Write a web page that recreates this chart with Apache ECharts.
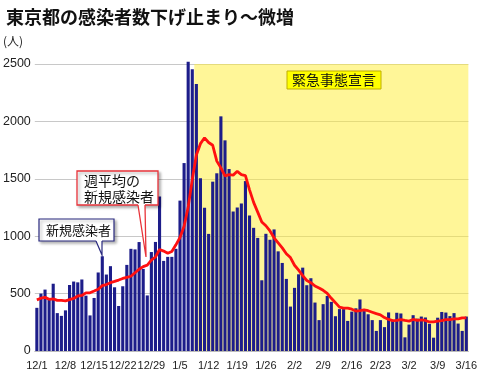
<!DOCTYPE html>
<html>
<head>
<meta charset="utf-8">
<script src="https://cdn.jsdelivr.net/npm/echarts@6/dist/echarts.min.js"></script>
<style>
html, body { margin: 0; padding: 0; background: #fff; }
#chart { width: 480px; height: 377px; }
</style>
</head>
<body>
<div id="chart"></div>
<script>
// 日付（12/1〜3/16）
var dates = [
  '12/1','12/2','12/3','12/4','12/5','12/6','12/7','12/8','12/9','12/10','12/11','12/12','12/13','12/14','12/15','12/16',
  '12/17','12/18','12/19','12/20','12/21','12/22','12/23','12/24','12/25','12/26','12/27','12/28','12/29','12/30','12/31',
  '1/1','1/2','1/3','1/4','1/5','1/6','1/7','1/8','1/9','1/10','1/11','1/12','1/13','1/14','1/15','1/16',
  '1/17','1/18','1/19','1/20','1/21','1/22','1/23','1/24','1/25','1/26','1/27','1/28','1/29','1/30','1/31',
  '2/1','2/2','2/3','2/4','2/5','2/6','2/7','2/8','2/9','2/10','2/11','2/12','2/13','2/14',
  '2/15','2/16','2/17','2/18','2/19','2/20','2/21','2/22','2/23','2/24','2/25','2/26','2/27','2/28',
  '3/1','3/2','3/3','3/4','3/5','3/6','3/7','3/8','3/9','3/10','3/11','3/12','3/13','3/14','3/15','3/16'
];
// 新規感染者（日別）
var cases = [
  376,500,535,451,586,330,306,354,575,605,598,623,482,310,462,684,825,666,739,555,392,564,750,890,885,949,715,484,862,950,1345,
  785,820,820,890,1310,1637,2520,2455,2325,1505,1247,1020,1475,1548,2044,1835,1585,1215,1250,1285,1480,1180,1073,985,616,1021,969,1059,868,767,628,
  387,550,668,726,573,634,422,269,408,480,428,303,365,365,262,343,372,449,348,320,269,175,269,208,336,269,333,327,
  119,230,312,282,300,292,237,116,290,340,335,304,330,239,175,300
];
// 週平均の新規感染者
var weekAvg = [
  445,460,467,450,454,441,441,437,448,458,479,484,506,507,522,538,569,579,595,606,618,632,642,651,682,712,735,748,791,819,884,
  870,852,867,925,989,1087,1255,1493,1708,1806,1857,1816,1792,1654,1595,1525,1536,1532,1565,1537,1528,1404,1295,1210,1124,1091,1046,986,942,898,847,
  814,747,704,656,614,595,566,549,529,502,459,421,382,374,373,364,348,351,358,351,338,325,315,291,275,264,266,274,
  266,260,275,267,272,266,253,253,261,265,273,273,279,279,288,289
];
var yTicks = [0, 500, 1000, 1500, 2000, 2500];
var emergencyStart = '1/9';

var jp = "'Noto Sans CJK JP', sans-serif";
var chart = echarts.init(document.getElementById('chart'));
var startIdx = dates.indexOf(emergencyStart) - 0.5;

var option = {
  animation: false,
  title: {
    text: '東京都の感染者数下げ止まり～微増',
    left: 1,
    top: 3,
    textStyle: { fontFamily: jp, fontSize: 18, fontWeight: 'bold', color: '#111' }
  },
  grid: { left: 34, right: 11, top: 64, bottom: 26 },
  xAxis: [{
    type: 'category',
    data: dates,
    axisLine: { show: true, lineStyle: { color: '#bbb' } },
    axisTick: { show: false },
    axisLabel: {
      interval: 6,
      margin: 9,
      color: '#222',
      fontSize: 11,
      fontFamily: 'Liberation Sans'
    }
  }, {
    type: 'value',
    min: -0.5,
    max: dates.length - 0.5,
    show: false
  }],
  yAxis: {
    type: 'value',
    min: yTicks[0],
    max: yTicks[yTicks.length - 1],
    interval: 500,
    axisLine: { show: false },
    axisTick: { show: false },
    axisLabel: {
      margin: 4, color: '#222', fontSize: 12.5, fontFamily: 'Liberation Sans',
      formatter: function (v) { return String(v); }
    },
    splitLine: { lineStyle: { color: '#c8c8c8', width: 1 } }
  },
  series: [{
    type: 'line',
    xAxisIndex: 1,
    data: [[startIdx, 0]],
    symbol: 'none',
    lineStyle: { opacity: 0 },
    silent: true,
    markArea: {
      silent: true,
      itemStyle: { color: 'rgba(255, 238, 50, 0.5)' },
      data: [[{ xAxis: startIdx, yAxis: 0 }, { xAxis: dates.length - 0.5, yAxis: yTicks[yTicks.length - 1] }]]
    }
  }, {
    name: '新規感染者',
    type: 'bar',
    data: cases,
    clip: false,
    barCategoryGap: '24%',
    itemStyle: { color: '#1d1d8a' }
  }, {
    name: '週平均の新規感染者',
    type: 'line',
    data: weekAvg,
    symbol: 'none',
    smooth: false,
    lineStyle: { color: '#ff1010', width: 2.8 },
    z: 5
  }],
  graphic: [
    {
      type: 'text',
      left: 3, top: 35,
      style: { text: '(人)', fontFamily: jp, fontSize: 12, fill: '#222' }
    },
    // 緊急事態宣言
    {
      type: 'rect',
      shape: { x: 287, y: 71, width: 94, height: 18 },
      style: { fill: '#ffff00', stroke: '#bfae00', lineWidth: 1 },
      z: 10
    },
    {
      type: 'text',
      style: { text: '緊急事態宣言', x: 334, y: 80, align: 'center', verticalAlign: 'middle',
               fontFamily: jp, fontSize: 14, fill: '#111' },
      z: 11
    },
    // 週平均の新規感染者 callout
    {
      type: 'rect',
      shape: { x: 77, y: 171, width: 81, height: 34 },
      style: { fill: '#fff', stroke: '#e8333a', lineWidth: 1.3,
               shadowBlur: 3, shadowOffsetX: 2, shadowOffsetY: 2, shadowColor: 'rgba(0,0,0,0.3)' },
      z: 10
    },
    {
      type: 'polygon',
      shape: { points: [[138, 203.5], [145, 203.5], [146, 257], [138, 206]] },
      style: { fill: '#fff' },
      z: 11
    },
    {
      type: 'polyline',
      shape: { points: [[138, 205], [146, 257], [145, 205]] },
      style: { stroke: '#e8333a', lineWidth: 1.3, fill: null },
      z: 11
    },
    {
      type: 'text',
      style: { text: '週平均の\n新規感染者', x: 84, y: 173, lineHeight: 16,
               fontFamily: jp, fontSize: 14, fill: '#111' },
      z: 12
    },
    // 新規感染者 callout
    {
      type: 'rect',
      shape: { x: 39, y: 219, width: 75, height: 22 },
      style: { fill: '#fff', stroke: '#2a2a80', lineWidth: 1.2,
               shadowBlur: 3, shadowOffsetX: 2, shadowOffsetY: 2, shadowColor: 'rgba(0,0,0,0.3)' },
      z: 10
    },
    {
      type: 'polygon',
      shape: { points: [[96, 239.5], [102, 239.5], [102, 255], [96, 242]] },
      style: { fill: '#fff' },
      z: 11
    },
    {
      type: 'polyline',
      shape: { points: [[96, 241], [102, 255], [102, 241]] },
      style: { stroke: '#2a2a80', lineWidth: 1.2, fill: null },
      z: 11
    },
    {
      type: 'text',
      style: { text: '新規感染者', x: 46, y: 230, verticalAlign: 'middle',
               fontFamily: jp, fontSize: 13, fill: '#111' },
      z: 12
    }
  ]
};
chart.setOption(option);
</script>
</body>
</html>
